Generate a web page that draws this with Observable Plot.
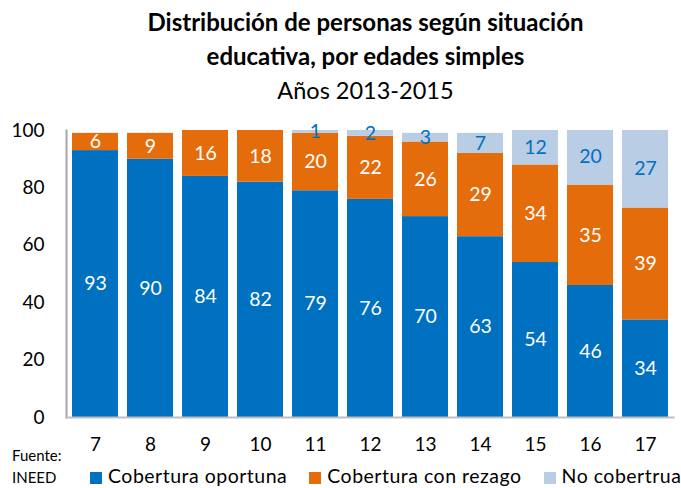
<!DOCTYPE html>
<html><head><meta charset="utf-8">
<script src="https://cdn.jsdelivr.net/npm/d3@7"></script>
<script src="https://cdn.jsdelivr.net/npm/@observablehq/plot@0.6"></script>
<style>
body{margin:0;background:#fff;font-family:Lato,"Open Sans",sans-serif;}
#wrap{position:relative;width:681px;height:488px;overflow:hidden;}
#title{position:absolute;top:0;left:25px;width:681px;text-align:center;color:#000;}
#title .t{font-weight:bold;font-size:24px;line-height:34px;}
#title .s{font-size:23.5px;line-height:34px;}
#chart{position:absolute;top:110px;left:0;}
#src{position:absolute;left:12px;top:444px;font-size:15px;line-height:22px;color:#000;}
#legend{position:absolute;left:90px;top:466px;font-size:19.5px;letter-spacing:0.5px;line-height:19px;color:#000;white-space:nowrap;}
#legend span.sw{display:inline-block;width:12px;height:12px;margin-right:6px;vertical-align:-1px;}
#legend span.it{margin-right:22px;}
</style></head>
<body><div id="wrap">
<div id="title"><div class="t" style="margin-top:5px">Distribución de personas según situación</div><div class="t">educativa, por edades simples</div><div class="s">Años 2013-2015</div></div>
<div id="chart"></div>
<div id="src">Fuente:<br>INEED</div>
<div id="legend"></div>
</div>
<script>
const ages = ["7","8","9","10","11","12","13","14","15","16","17"];
const series = ["Cobertura oportuna","Cobertura con rezago","No cobertrua"];
const colors = ["#0070c0","#e46c0a","#b9cde5"];
const oportuna = [93,90,84,82,79,76,70,63,54,46,34];
const rezago = [6,9,16,18,20,22,26,29,34,35,39];
const noCob = [0,0,0,0,1,2,3,7,12,20,27];
const yTicks = [0,20,40,60,80,100];

const data = [];
[oportuna, rezago, noCob].forEach((arr, si) => arr.forEach((v, i) => data.push({age: ages[i], series: series[si], value: v})));

const chart = Plot.plot({
  width: 681, height: 347,
  marginLeft: 66, marginRight: 8, marginTop: 20, marginBottom: 40,
  style: {fontFamily: "Lato, 'Open Sans', sans-serif", color: "#000", background: "transparent"},
  x: {domain: ages, paddingInner: 0.165, paddingOuter: 0.08, label: null},
  y: {domain: [0, 100], ticks: yTicks, label: null},
  color: {domain: series, range: colors},
  marks: [
    Plot.barY(data, Plot.stackY({x: "age", y: "value", fill: "series", clip: true})),
    Plot.text(data, Plot.stackY({x: "age", y: "value", z: "series", text: d => (d.series !== series[2] && d.value > 0) ? String(d.value) : "", fill: "white", fontSize: 19.5})),
    Plot.text(data, Plot.stackY({x: "age", y: "value", z: "series", text: d => (d.series === series[2] && d.value > 0) ? String(d.value) : "", fill: "#0070c0", fontSize: 19.5})),
    Plot.frame({anchor: "left", stroke: "#a6a6a6", strokeWidth: 2}),
    Plot.frame({anchor: "bottom", stroke: "#bfbfbf", strokeWidth: 2}),
    Plot.axisX({tickSize: 0, tickPadding: 20, fontSize: 19, label: null}),
    Plot.axisY({ticks: yTicks, tickSize: 0, tickPadding: 22, fontSize: 19, label: null})
  ]
});
document.getElementById("chart").appendChild(chart);

const leg = document.getElementById("legend");
series.forEach((s, i) => {
  const it = document.createElement("span"); it.className = "it";
  const sw = document.createElement("span"); sw.className = "sw"; sw.style.background = colors[i];
  it.appendChild(sw); it.appendChild(document.createTextNode(s));
  leg.appendChild(it);
});
</script>
</body></html>
